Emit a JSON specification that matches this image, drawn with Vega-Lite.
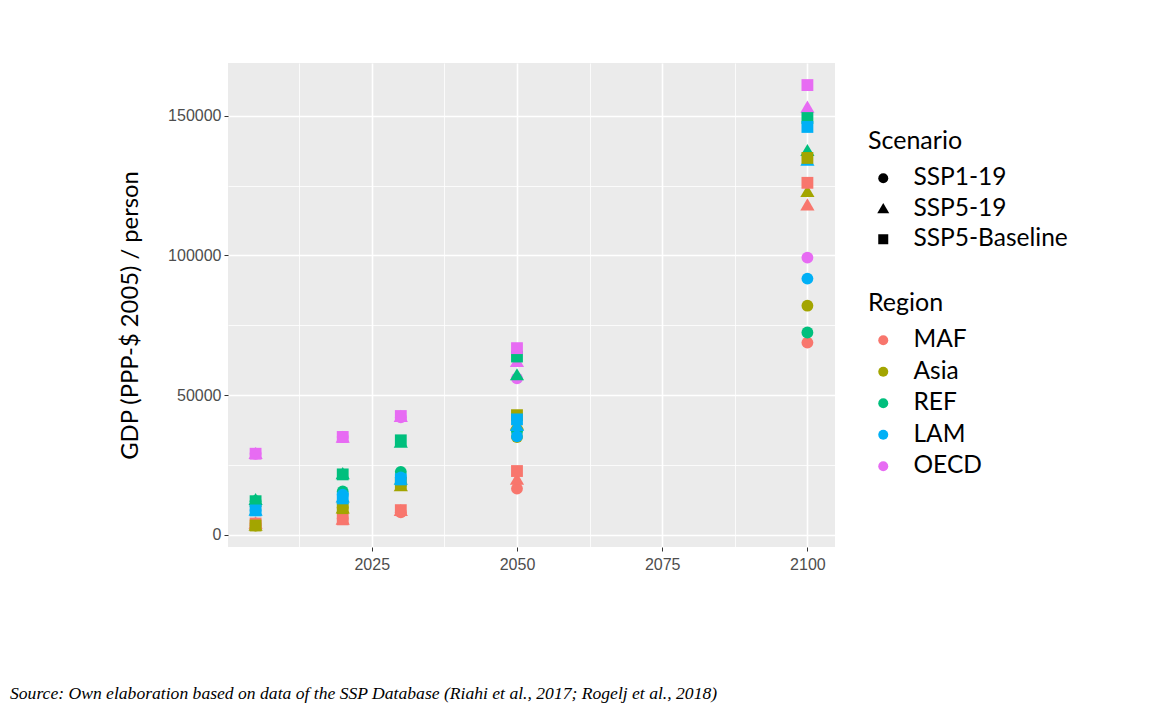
{
  "$schema": "https://vega.github.io/schema/vega-lite/v6.json",
  "width": 607,
  "height": 484,
  "autosize": "none",
  "padding": {"left": 228, "top": 63, "right": 320, "bottom": 157},
  "background": "white",
  "title": {
    "text": "Source: Own elaboration based on data of the SSP Database (Riahi et al., 2017; Rogelj et al., 2018)",
    "orient": "bottom",
    "anchor": "start",
    "frame": "group",
    "font": "Liberation Serif",
    "fontStyle": "italic",
    "fontWeight": "normal",
    "fontSize": 17.6,
    "color": "black",
    "offset": 113,
    "dx": -218
  },
  "data": {
    "values": [
      {"year": 2005, "region": "MAF", "scenario": "SSP1-19", "gdp": 4000},
      {"year": 2005, "region": "Asia", "scenario": "SSP1-19", "gdp": 3300},
      {"year": 2005, "region": "REF", "scenario": "SSP1-19", "gdp": 12000},
      {"year": 2005, "region": "LAM", "scenario": "SSP1-19", "gdp": 8700},
      {"year": 2005, "region": "OECD", "scenario": "SSP1-19", "gdp": 29000},
      {"year": 2020, "region": "MAF", "scenario": "SSP1-19", "gdp": 5800},
      {"year": 2020, "region": "Asia", "scenario": "SSP1-19", "gdp": 9800},
      {"year": 2020, "region": "REF", "scenario": "SSP1-19", "gdp": 15500},
      {"year": 2020, "region": "LAM", "scenario": "SSP1-19", "gdp": 14300},
      {"year": 2020, "region": "OECD", "scenario": "SSP1-19", "gdp": 35000},
      {"year": 2030, "region": "MAF", "scenario": "SSP1-19", "gdp": 8000},
      {"year": 2030, "region": "Asia", "scenario": "SSP1-19", "gdp": 18000},
      {"year": 2030, "region": "REF", "scenario": "SSP1-19", "gdp": 22500},
      {"year": 2030, "region": "LAM", "scenario": "SSP1-19", "gdp": 20500},
      {"year": 2030, "region": "OECD", "scenario": "SSP1-19", "gdp": 42000},
      {"year": 2050, "region": "MAF", "scenario": "SSP1-19", "gdp": 16500},
      {"year": 2050, "region": "Asia", "scenario": "SSP1-19", "gdp": 35000},
      {"year": 2050, "region": "REF", "scenario": "SSP1-19", "gdp": 37000},
      {"year": 2050, "region": "LAM", "scenario": "SSP1-19", "gdp": 35200},
      {"year": 2050, "region": "OECD", "scenario": "SSP1-19", "gdp": 56000},
      {"year": 2100, "region": "MAF", "scenario": "SSP1-19", "gdp": 68800},
      {"year": 2100, "region": "Asia", "scenario": "SSP1-19", "gdp": 82000},
      {"year": 2100, "region": "REF", "scenario": "SSP1-19", "gdp": 72400},
      {"year": 2100, "region": "LAM", "scenario": "SSP1-19", "gdp": 91700},
      {"year": 2100, "region": "OECD", "scenario": "SSP1-19", "gdp": 99200},
      {"year": 2005, "region": "MAF", "scenario": "SSP5-19", "gdp": 4000},
      {"year": 2005, "region": "Asia", "scenario": "SSP5-19", "gdp": 3300},
      {"year": 2005, "region": "REF", "scenario": "SSP5-19", "gdp": 12500},
      {"year": 2005, "region": "LAM", "scenario": "SSP5-19", "gdp": 8700},
      {"year": 2005, "region": "OECD", "scenario": "SSP5-19", "gdp": 29000},
      {"year": 2020, "region": "MAF", "scenario": "SSP5-19", "gdp": 5500},
      {"year": 2020, "region": "Asia", "scenario": "SSP5-19", "gdp": 9500},
      {"year": 2020, "region": "REF", "scenario": "SSP5-19", "gdp": 21800},
      {"year": 2020, "region": "LAM", "scenario": "SSP5-19", "gdp": 13400},
      {"year": 2020, "region": "OECD", "scenario": "SSP5-19", "gdp": 34800},
      {"year": 2030, "region": "MAF", "scenario": "SSP5-19", "gdp": 8600},
      {"year": 2030, "region": "Asia", "scenario": "SSP5-19", "gdp": 17500},
      {"year": 2030, "region": "REF", "scenario": "SSP5-19", "gdp": 33000},
      {"year": 2030, "region": "LAM", "scenario": "SSP5-19", "gdp": 19800},
      {"year": 2030, "region": "OECD", "scenario": "SSP5-19", "gdp": 42300},
      {"year": 2050, "region": "MAF", "scenario": "SSP5-19", "gdp": 19800},
      {"year": 2050, "region": "Asia", "scenario": "SSP5-19", "gdp": 39500},
      {"year": 2050, "region": "REF", "scenario": "SSP5-19", "gdp": 57200},
      {"year": 2050, "region": "LAM", "scenario": "SSP5-19", "gdp": 39000},
      {"year": 2050, "region": "OECD", "scenario": "SSP5-19", "gdp": 62000},
      {"year": 2100, "region": "MAF", "scenario": "SSP5-19", "gdp": 118000},
      {"year": 2100, "region": "Asia", "scenario": "SSP5-19", "gdp": 122800},
      {"year": 2100, "region": "REF", "scenario": "SSP5-19", "gdp": 137500},
      {"year": 2100, "region": "LAM", "scenario": "SSP5-19", "gdp": 134000},
      {"year": 2100, "region": "OECD", "scenario": "SSP5-19", "gdp": 153000},
      {"year": 2005, "region": "MAF", "scenario": "SSP5-Baseline", "gdp": 4000},
      {"year": 2005, "region": "Asia", "scenario": "SSP5-Baseline", "gdp": 3300},
      {"year": 2005, "region": "REF", "scenario": "SSP5-Baseline", "gdp": 12000},
      {"year": 2005, "region": "LAM", "scenario": "SSP5-Baseline", "gdp": 8700},
      {"year": 2005, "region": "OECD", "scenario": "SSP5-Baseline", "gdp": 29000},
      {"year": 2020, "region": "MAF", "scenario": "SSP5-Baseline", "gdp": 5500},
      {"year": 2020, "region": "Asia", "scenario": "SSP5-Baseline", "gdp": 9500},
      {"year": 2020, "region": "REF", "scenario": "SSP5-Baseline", "gdp": 21600},
      {"year": 2020, "region": "LAM", "scenario": "SSP5-Baseline", "gdp": 13000},
      {"year": 2020, "region": "OECD", "scenario": "SSP5-Baseline", "gdp": 35000},
      {"year": 2030, "region": "MAF", "scenario": "SSP5-Baseline", "gdp": 8800},
      {"year": 2030, "region": "Asia", "scenario": "SSP5-Baseline", "gdp": 18500},
      {"year": 2030, "region": "REF", "scenario": "SSP5-Baseline", "gdp": 33800},
      {"year": 2030, "region": "LAM", "scenario": "SSP5-Baseline", "gdp": 19800},
      {"year": 2030, "region": "OECD", "scenario": "SSP5-Baseline", "gdp": 42500},
      {"year": 2050, "region": "MAF", "scenario": "SSP5-Baseline", "gdp": 22800},
      {"year": 2050, "region": "Asia", "scenario": "SSP5-Baseline", "gdp": 42800},
      {"year": 2050, "region": "REF", "scenario": "SSP5-Baseline", "gdp": 63800},
      {"year": 2050, "region": "LAM", "scenario": "SSP5-Baseline", "gdp": 41300},
      {"year": 2050, "region": "OECD", "scenario": "SSP5-Baseline", "gdp": 66800},
      {"year": 2100, "region": "MAF", "scenario": "SSP5-Baseline", "gdp": 126000},
      {"year": 2100, "region": "Asia", "scenario": "SSP5-Baseline", "gdp": 134900},
      {"year": 2100, "region": "REF", "scenario": "SSP5-Baseline", "gdp": 149200},
      {"year": 2100, "region": "LAM", "scenario": "SSP5-Baseline", "gdp": 146000},
      {"year": 2100, "region": "OECD", "scenario": "SSP5-Baseline", "gdp": 161000}
    ]
  },
  "resolve": {"axis": {"x": "independent", "y": "independent"}},
  "layer": [
    {
      "mark": {"type": "point", "opacity": 0},
      "encoding": {
        "x": {
          "field": "year", "type": "quantitative",
          "scale": {"domain": [2000.25, 2104.75], "nice": false, "zero": false},
          "axis": {"orient": "top", "values": [2012.5, 2037.5, 2062.5, 2087.5], "grid": true, "gridColor": "white", "gridWidth": 0.8, "labels": false, "ticks": false, "domain": false, "title": null, "zindex": 0}
        },
        "y": {
          "field": "gdp", "type": "quantitative",
          "scale": {"domain": [-4400, 168900], "nice": false, "zero": false},
          "axis": {"orient": "right", "values": [25000, 75000, 125000], "grid": true, "gridColor": "white", "gridWidth": 0.8, "labels": false, "ticks": false, "domain": false, "title": null, "zindex": 0}
        }
      }
    },
    {
      "mark": {"type": "point", "filled": true, "opacity": 1, "size": 140},
      "encoding": {
        "x": {
          "field": "year", "type": "quantitative",
          "scale": {"domain": [2000.25, 2104.75], "nice": false, "zero": false},
          "axis": {"orient": "bottom", "values": [2025, 2050, 2075, 2100], "format": "d", "grid": true, "gridColor": "white", "gridWidth": 1.6, "domain": false, "tickColor": "#333333", "tickSize": 4, "tickWidth": 1, "labelFont": "Liberation Sans", "labelFontSize": 16, "labelColor": "#4D4D4D", "labelPadding": 5, "title": null, "zindex": 0}
        },
        "y": {
          "field": "gdp", "type": "quantitative",
          "scale": {"domain": [-4400, 168900], "nice": false, "zero": false},
          "axis": {"orient": "left", "values": [0, 50000, 100000, 150000], "format": "d", "grid": true, "gridColor": "white", "gridWidth": 1.6, "domain": false, "tickColor": "#333333", "tickSize": 4, "tickWidth": 1, "labelFont": "Liberation Sans", "labelFontSize": 16, "labelColor": "#4D4D4D", "labelPadding": 3, "title": "GDP (PPP-$ 2005) / person", "titleFont": "Lato", "titleFontSize": 23.8, "titleFontWeight": "normal", "titleColor": "black", "titlePadding": 25, "titleY": 252, "zindex": 0}
        },
        "color": {
          "field": "region", "type": "nominal",
          "scale": {"domain": ["MAF", "Asia", "REF", "LAM", "OECD"], "range": ["#F8766D", "#A3A500", "#00BF7D", "#00B0F6", "#E76BF3"]},
          "legend": {"title": "Region", "orient": "none", "legendX": 640, "legendY": 228, "symbolType": "circle", "symbolSize": 100, "symbolOffset": 3, "labelOffset": 18, "rowPadding": 6.5, "titlePadding": 12, "padding": 0}
        },
        "shape": {
          "field": "scenario", "type": "nominal",
          "scale": {"domain": ["SSP1-19", "SSP5-19", "SSP5-Baseline"], "range": ["circle", "M0,-1.15L1.2,0.9L-1.2,0.9Z", "square"]},
          "legend": {"title": "Scenario", "orient": "none", "legendX": 640, "legendY": 66, "symbolSize": 100, "symbolFillColor": "black", "symbolStrokeWidth": 0, "symbolOffset": 3, "labelOffset": 18, "rowPadding": 5.5, "titlePadding": 12, "padding": 0}
        },
        "order": {"value": 0}
      }
    }
  ],
  "config": {
    "view": {"fill": "#EBEBEB", "stroke": null},
    "legend": {
      "titleFont": "Lato", "titleFontSize": 25, "titleFontWeight": "normal", "titleColor": "black",
      "labelFont": "Lato", "labelFontSize": 24.5, "labelColor": "black", "labelLimit": 400
    }
  }
}
